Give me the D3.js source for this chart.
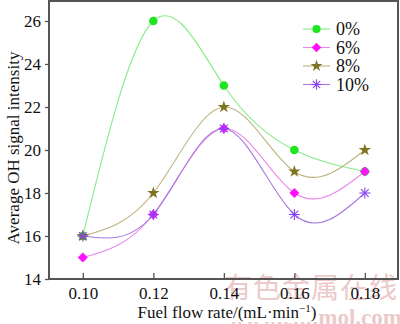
<!DOCTYPE html>
<html>
<head>
<meta charset="utf-8">
<script src="https://cdn.jsdelivr.net/npm/d3@7"></script>
<style>
  body { margin: 0; background: #fff; }
  svg text { font-family: "Liberation Serif", "Times New Roman", serif; }
</style>
</head>
<body>
<div id="chart"></div>
<script>
const width = 400;
const height = 324;

const flowRates = [0.10, 0.12, 0.14, 0.16, 0.18];
const seriesNames = ["0%", "6%", "8%", "10%"];
const values0 = [16, 26, 23, 20, 19];
const values6 = [15, 17, 21, 18, 19];
const values8 = [16, 18, 22, 19, 20];
const values10 = [16, 17, 21, 17, 18];
const yTicks = [14, 16, 18, 20, 22, 24, 26];

const series = [
  { name: seriesNames[0], values: values0, line: "#86ec86", fill: "#1ee61e", shape: "circle" },
  { name: seriesNames[1], values: values6, line: "#ec88ec", fill: "#ff10ff", shape: "diamond" },
  { name: seriesNames[2], values: values8, line: "#bdb47e", fill: "#7d7420", shape: "star" },
  { name: seriesNames[3], values: values10, line: "#a777dd", fill: "#8c44f0", shape: "asterisk" },
];

const serif = "'Liberation Serif', 'Times New Roman', serif";

const x = d3.scaleLinear().domain([0.0904, 0.1894]).range([49, 398]);
const y = d3.scaleLinear().domain([14, 26.93]).range([279, 1]);

const svg = d3
  .select("#chart")
  .append("svg")
  .attr("width", width)
  .attr("height", height);

// faint site watermark sits under everything
const wm = svg.append("g").attr("fill", "#eccaca");
wm.append("text")
  .attr("x", 311)
  .attr("y", 298)
  .attr("text-anchor", "middle")
  .style("font-family", "'Noto Sans CJK SC', sans-serif")
  .attr("font-size", 28)
  .attr("letter-spacing", 1)
  .text("有色金属在线");
wm.append("text")
  .attr("x", 402)
  .attr("y", 325)
  .attr("text-anchor", "end")
  .attr("font-weight", "bold")
  .attr("font-size", 23)
  .text("www.cnnmol.com");

// frame
svg.append("rect")
  .attr("x", 49)
  .attr("y", 1)
  .attr("width", 349)
  .attr("height", 278)
  .attr("fill", "none")
  .attr("stroke", "#555")
  .attr("stroke-width", 2);

// y ticks point outward, x ticks inward
const yAxis = svg.append("g")
  .attr("transform", "translate(49,0)")
  .call(d3.axisLeft(y).tickValues(yTicks).tickSize(4).tickPadding(4).tickFormat(d3.format("d")));
yAxis.select(".domain").remove();
yAxis.selectAll("line").attr("stroke", "#555").attr("stroke-width", 1.3);
yAxis.selectAll("text").attr("font-size", 17).attr("fill", "#111").style("font-family", serif);

const xAxis = svg.append("g")
  .attr("transform", "translate(0,279)")
  .call(d3.axisBottom(x).tickValues(flowRates).tickSize(-6).tickPadding(8).tickFormat(d3.format(".2f")));
xAxis.select(".domain").remove();
xAxis.selectAll("line").attr("stroke", "#555").attr("stroke-width", 1.3);
xAxis.selectAll("text").attr("font-size", 17).attr("fill", "#111").style("font-family", serif);

// axis titles
const xLabel = svg.append("text")
  .attr("x", 227)
  .attr("y", 318)
  .attr("text-anchor", "middle")
  .attr("font-size", 17)
  .attr("fill", "#111");
xLabel.append("tspan").text("Fuel flow rate/(mL·min");
xLabel.append("tspan").attr("dy", -6).attr("font-size", 11).text("−1");
xLabel.append("tspan").attr("dy", 6).text(")");
const bb = xLabel.node().getBBox();
svg.insert("rect", function () { return xLabel.node(); })
  .attr("x", bb.x - 1)
  .attr("y", bb.y)
  .attr("width", bb.width + 2)
  .attr("height", bb.height)
  .attr("fill", "#fff");

svg.append("text")
  .attr("transform", "translate(19,148) rotate(-90)")
  .attr("text-anchor", "middle")
  .attr("font-size", 17)
  .attr("fill", "#111")
  .text("Average OH signal intensity");

const line = d3.line()
  .x((d, i) => x(flowRates[i]))
  .y((d) => y(d))
  .curve(d3.curveNatural);

const plot = svg.append("g");

function drawMarker(g, shape, color, cx, cy, scale) {
  const k = scale || 1;
  if (shape === "circle") {
    g.append("circle").attr("cx", cx).attr("cy", cy).attr("r", 4.3 * k).attr("fill", color);
  } else if (shape === "diamond") {
    g.append("path")
      .attr("d", d3.symbol(d3.symbolSquare, 50 * k * k)())
      .attr("transform", `translate(${cx},${cy}) rotate(45)`)
      .attr("fill", color);
  } else if (shape === "star") {
    g.append("path")
      .attr("d", d3.symbol(d3.symbolStar, 48 * k * k)())
      .attr("transform", `translate(${cx},${cy})`)
      .attr("fill", color);
  } else {
    const r = 5.5 * k;
    const a = g.append("g").attr("stroke", color).attr("stroke-width", 1.1);
    [0, 45, 90, 135].forEach((ang) => {
      const rad = (ang * Math.PI) / 180;
      a.append("line")
        .attr("x1", cx - r * Math.cos(rad))
        .attr("y1", cy - r * Math.sin(rad))
        .attr("x2", cx + r * Math.cos(rad))
        .attr("y2", cy + r * Math.sin(rad));
    });
  }
}

series.forEach((s) => {
  plot.append("path")
    .datum(s.values)
    .attr("d", line)
    .attr("fill", "none")
    .attr("stroke", s.line)
    .attr("stroke-width", 1.1);
});

series.forEach((s) => {
  const g = plot.append("g");
  s.values.forEach((v, i) => drawMarker(g, s.shape, s.fill, x(flowRates[i]), y(v)));
});

// legend
const legend = svg.append("g");
series.forEach((s, i) => {
  const ly = 29 + i * 18.5;
  legend.append("line")
    .attr("x1", 303).attr("x2", 330)
    .attr("y1", ly).attr("y2", ly)
    .attr("stroke", s.line)
    .attr("stroke-width", 1.1);
  drawMarker(legend, s.shape, s.fill, 316.5, ly, 0.95);
  legend.append("text")
    .attr("x", 336)
    .attr("y", ly + 6)
    .attr("font-size", 18)
    .attr("fill", "#111")
    .text(s.name);
});
</script>
</body>
</html>
